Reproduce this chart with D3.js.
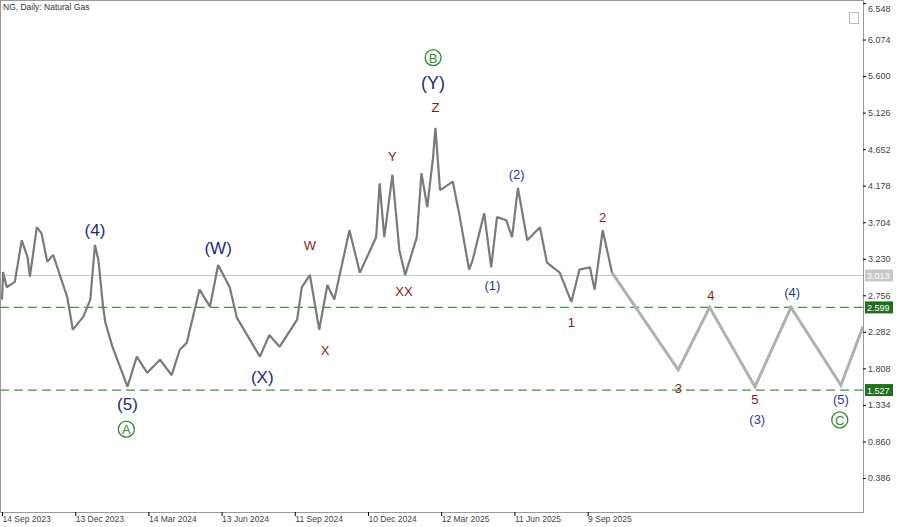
<!DOCTYPE html><html><head><meta charset="utf-8">
<script src="https://cdn.jsdelivr.net/npm/d3@7"></script>
<style>body{margin:0;background:#fff}svg{display:block}</style></head><body>
<svg id="c" width="900" height="527"></svg>
<script>
const barIdx=[0,1,4,11,17,22,24,30,34,39,44,56,61,70,76,80,83,87,89,95,108,116,125,136,146,153,159,170,179,186,196,202,222,230,239,254,258,265,273,280,286,299,308,322,325,329,336,342,347,357,361,366,371,373,377,388,394,402,405,415,421,426,434,439,444,452,463,469,480,490,497,506,510,517,525];
const prices=[2.70,3.06,2.86,2.93,3.47,3.25,3.00,3.64,3.56,3.19,3.28,2.74,2.31,2.48,2.70,3.41,3.21,2.61,2.40,2.09,1.57,1.96,1.75,1.92,1.72,2.05,2.14,2.83,2.61,3.15,2.86,2.47,1.96,2.24,2.09,2.44,2.86,3.02,2.31,2.89,2.70,3.60,3.05,3.51,4.21,3.51,4.32,3.34,3.02,3.51,4.34,3.90,4.55,4.93,4.12,4.23,3.77,3.09,3.21,3.82,3.12,3.77,3.73,3.51,4.15,3.47,3.64,3.18,3.05,2.67,3.09,3.12,2.83,3.60,3.05];
const projIdx=[525,582,609,648,679,722,741];
const projPrices=[3.05,1.79,2.60,1.57,2.60,1.59,2.35];
const priceTicks=[6.548,6.074,5.600,5.126,4.652,4.178,3.704,3.230,2.756,2.282,1.808,1.334,0.860,0.386];
const dateLabels=["14 Sep 2023","13 Dec 2023","14 Mar 2024","13 Jun 2024","11 Sep 2024","10 Dec 2024","12 Mar 2025","11 Jun 2025","9 Sep 2025"];
const dateIdx=[0,63,126,189,252,315,378,441,504];
const levels=[2.599,1.527];
const current=3.013;
const waveText=["(4)","(5)","A","(W)","(X)","W","X","XX","Y","Z","(Y)","B","(1)","(2)","1","2","3","4","5","(3)","(4)","(5)","C"];
const waveIdx=[80,108,107,186,224,265,278,346,336,373,371,371,422,443,490,517,582,610,648,650,680,722,721];
const wavePrice=[3.60,1.35,1.02,3.37,1.70,3.40,2.04,2.81,4.56,5.19,5.52,5.84,2.89,4.32,2.41,3.76,1.55,2.75,1.40,1.15,2.79,1.41,1.14];
const waveKind=["p","p","c","p","p","r","r","r","r","r","P","c","s","s","r","r","r","r","r","s","s","s","c"];

const svg=d3.select("#c");
const x=d3.scaleLinear().domain([0,741]).range([2,863]);
const y=d3.scaleLinear().domain([6.548,0.386]).range([3,478]);
const R=863,B=512;
svg.append("rect").attr("x",0.5).attr("y",0.5).attr("width",R).attr("height",B).attr("fill","none").attr("stroke","#999");
svg.append("line").attr("x1",0).attr("x2",R).attr("y1",y(current)).attr("y2",y(current)).attr("stroke","#c8c8c8");
levels.forEach(v=>svg.append("line").attr("x1",0).attr("x2",R).attr("y1",y(v)).attr("y2",y(v)).attr("stroke","#3f963f").attr("stroke-width",1.2).attr("stroke-dasharray","9,5"));
svg.append("path").datum(barIdx.map((d,i)=>[d,prices[i]])).attr("fill","none").attr("stroke","#7a7a7a").attr("stroke-width",2.2).attr("stroke-linejoin","bevel")
 .attr("d",d3.line().x(d=>x(d[0])).y(d=>y(d[1])));
svg.append("path").datum(projIdx.map((d,i)=>[d,projPrices[i]])).attr("fill","none").attr("stroke","#b0b0b0").attr("stroke-width",3)
 .attr("d",d3.line().x(d=>x(d[0])).y(d=>y(d[1])));
const ax=svg.append("g").attr("transform",`translate(${R},0)`).call(d3.axisRight(y).tickValues(priceTicks).tickFormat(d3.format(".3f")).tickSize(3));
ax.select(".domain").attr("stroke","#999");
ax.selectAll("text").attr("font-family","Liberation Sans, sans-serif").attr("font-size",9).attr("fill","#444").attr("dx",-1);
ax.selectAll(".tick").filter(d=>d===6.548).select("text").attr("dy","0.9em");
const bx=svg.append("g").attr("transform",`translate(0,${B})`).call(d3.axisBottom(x).tickValues(dateIdx).tickFormat((d,i)=>dateLabels[i]).tickSize(4));
bx.select(".domain").remove();
bx.selectAll("text").attr("font-family","Liberation Sans, sans-serif").attr("font-size",8.5).attr("fill","#444").attr("text-anchor","start").attr("dx",0).attr("dy",3);
[[current,"#c8c8c8"],[2.599,"#1e6e1e"],[1.527,"#1e6e1e"]].forEach(([v,c])=>{
 svg.append("rect").attr("x",R+2).attr("y",y(v)-6).attr("width",28).attr("height",12).attr("fill",c);
 svg.append("text").attr("x",R+4).attr("y",y(v)+4).text(v.toFixed(3)).attr("font-family","Liberation Sans, sans-serif").attr("font-size",9).attr("fill","#fff");
});
svg.append("text").attr("x",3).attr("y",10).text("NG, Daily:  Natural Gas").attr("font-family","Liberation Sans, sans-serif").attr("font-size",8.5).attr("fill","#333");
svg.append("rect").attr("x",849.5).attr("y",12.5).attr("width",9).attr("height",11).attr("fill","none").attr("stroke","#bbb");
const F="Liberation Sans, sans-serif";
waveText.forEach((t,i)=>{
 const cx=x(waveIdx[i]),cy=y(wavePrice[i]),k=waveKind[i];
 if(k==="c"){
  svg.append("circle").attr("cx",cx).attr("cy",cy).attr("r",8).attr("fill","none").attr("stroke","#2e8b2e").attr("stroke-width",1.3);
  svg.append("text").attr("x",cx).attr("y",cy+5).attr("text-anchor","middle").text(t).attr("font-family",F).attr("font-size",13).attr("fill","#2e8b2e");
  return;
 }
 const st={p:[17,"#1c2a80"],P:[18,"#1c2a80"],s:[13,"#2a3a9a"],r:[13,"#8b1a1a"]}[k];
 svg.append("text").attr("x",cx).attr("y",cy+st[0]*0.35).attr("text-anchor","middle").text(t).attr("font-family",F).attr("font-size",st[0]).attr("fill",st[1]);
});
</script></body></html>
